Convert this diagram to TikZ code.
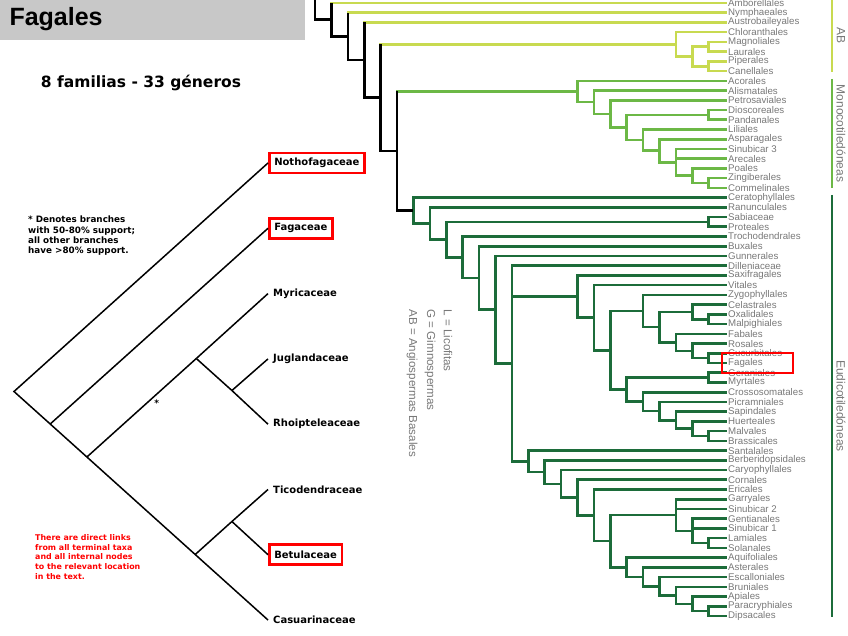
\documentclass[tikz,border=0pt]{standalone}
\usepackage{fontspec}
\setmainfont{Liberation Sans}
\newfontfamily\famfont{DejaVu Sans}
\usetikzlibrary{positioning, calc}

\definecolor{abgreen}{RGB}{200,218,80}
\definecolor{monogreen}{RGB}{108,184,70}
\definecolor{eudigreen}{RGB}{28,108,58}
\definecolor{labgray}{RGB}{120,120,120}
\definecolor{boxgray}{RGB}{200,200,200}

\tikzset{
  orden/.style={anchor=west, inner sep=1pt, text=labgray, font=\fontsize{9.7}{10}\selectfont},
  spine/.style={black, line width=2.6pt},
  abline/.style={abgreen, line width=2.6pt},
  monoline/.style={monogreen, line width=2.6pt},
  eudiline/.style={eudigreen, line width=2.6pt},
  cladebar/.style={line width=2pt},
  cladelab/.style={rotate=-90, text=labgray, font=\fontsize{12}{12}\selectfont},
  legend/.style={rotate=-90, anchor=west, text=labgray, font=\fontsize{11.6}{12}\selectfont},
  fam/.style={anchor=west, inner xsep=5pt, inner ysep=0pt, minimum height=20pt, font=\famfont\bfseries\fontsize{10}{10}\selectfont},
  hilite/.style={draw=red, line width=2.5pt},
  branch/.style={line width=1.5pt},
  note/.style={anchor=north west, align=left, inner sep=0pt, font=\famfont\bfseries\fontsize{8.8}{10.3}\selectfont},
}

\begin{document}
\begin{tikzpicture}[x=1pt, y=-1pt]
\useasboundingbox (0,0) rectangle (848,636);

% title and count
\fill[boxgray] (0,0) rectangle (305,40);
\node[anchor=west, font=\bfseries\fontsize{25}{25}\selectfont] (title) at (6,19) {Fagales};
\node[font=\famfont\bfseries\fontsize{15.5}{15.5}\selectfont] (count) at (141,83) {8 familias - 33 géneros};

% Fagales cladogram
\node[fam, hilite] (f1) at (268,163) {Nothofagaceae};
\node[fam, hilite] (f2) at (268,228.3) {Fagaceae};
\node[fam] (f3) at (268,293.6) {Myricaceae};
\node[fam] (f4) at (268,358.9) {Juglandaceae};
\node[fam] (f5) at (268,424.2) {Rhoipteleaceae};
\node[fam] (f6) at (268,489.5) {Ticodendraceae};
\node[fam, hilite] (f7) at (268,554.7) {Betulaceae};
\node[fam] (f8) at (268,620) {Casuarinaceae};

\coordinate (r) at (14,391.5);
\coordinate (n1) at (50.2,424);
\coordinate (n2) at (86.9,457);
\coordinate (n3) at (196.3,358.5);
\coordinate (n4) at (231.9,390.5);
\coordinate (n5) at (195.2,554.5);
\coordinate (n6) at (231.9,521.5);

\draw[branch] (f1.west) -- (r) -- (n1) -- (n2) -- (n5) -- (f8.west);
\draw[branch] (n2) -- node[pos=.6, below right, inner sep=1pt, font=\famfont\bfseries\fontsize{9}{9}\selectfont] (ast) {*} (n3);
\draw[branch] (n3) -- (n4);
\draw[branch] (n5) -- (n6);
\foreach \p/\c in {n1/f2, n3/f3, n4/f4, n4/f5, n6/f6, n6/f7}
  \draw[branch] (\p) -- (\c.west);

\node[note] (support) at (28,216) {* Denotes branches\\with 50-80\% support;\\all other branches\\have >80\% support.};
\node[note, text=red, font=\famfont\bfseries\fontsize{7.9}{9.8}\selectfont] (links) at (35,534) {There are direct links\\from all terminal taxa\\and all internal nodes\\to the relevant location\\in the text.};

% legend
\node[legend] (leg1) at (448,306) {L = Licofitas};
\node[legend] (leg2) at (430,306) {G = Gimnospermas};
\node[legend] (leg3) at (412,306) {AB = Angiospermas Basales};

% orders
\foreach \orden [count=\i] in {Amborellales, Nymphaeales, Austrobaileyales, Chloranthales,
  Magnoliales, Laurales, Piperales, Canellales, Acorales, Alismatales, Petrosaviales,
  Dioscoreales, Pandanales, Liliales, Asparagales, Sinubicar 3, Arecales, Poales,
  Zingiberales, Commelinales, Ceratophyllales, Ranunculales, Sabiaceae, Proteales,
  Trochodendrales, Buxales, Gunnerales, Dilleniaceae, Saxifragales, Vitales,
  Zygophyllales, Celastrales, Oxalidales, Malpighiales, Fabales, Rosales, Cucurbitales,
  Fagales, Geraniales, Myrtales, Crossosomatales, Picramniales, Sapindales, Huerteales,
  Malvales, Brassicales, Santalales, Berberidopsidales, Caryophyllales, Cornales,
  Ericales, Garryales, Sinubicar 2, Gentianales, Sinubicar 1, Lamiales, Solanales,
  Aquifoliales, Asterales, Escalloniales, Bruniales, Apiales, Paracryphiales, Dipsacales}
  \node[orden] (o\i) at (727,{3+9.73*(\i-1)}) {\orden};

% backbone
\coordinate (b0) at (315,-3);
\coordinate (b1) at (331.4,19.7);
\coordinate (b2) at (347.8,36.4);
\coordinate (b3) at (364.2,60.1);
\coordinate (b4) at (380.6,97.7);
\coordinate (b5) at (397,151);
\coordinate (b6) at (413.4,210.5);

% AB
\coordinate (cm) at (675.8,44.35);
\coordinate (mg) at (692.2,56.52);
\coordinate (ml) at (708.6,46.79);
\coordinate (pc) at (708.6,66.25);

% monocots
\coordinate (m0) at (577.4,91.5);
\coordinate (m1) at (593.8,102.2);
\coordinate (m2) at (610.2,113.9);
\coordinate (m3) at (626.6,127.5);
\coordinate (dp) at (708.6,114.9);
\coordinate (m4) at (643,140.1);
\coordinate (m5) at (659.4,150.8);
\coordinate (m6) at (675.8,162.3);
\coordinate (m7) at (692.2,175.7);
\coordinate (zc) at (708.6,183);

% eudicots
\coordinate (e1) at (429.8,223.5);
\coordinate (e2) at (446.2,239.6);
\coordinate (sp) at (708.6,221.9);
\coordinate (e3) at (462.6,257.3);
\coordinate (e4) at (479,278);
\coordinate (e5) at (495.4,309.7);
\coordinate (e6) at (511.8,363.5);
\coordinate (sr) at (577.4,296.6);
\coordinate (ro) at (593.8,317.7);
\coordinate (er) at (610.2,350.3);
\coordinate (fa) at (643,311);
\coordinate (f2) at (659.4,327.1);
\coordinate (ce) at (692.2,311.9);
\coordinate (om) at (708.6,319.2);
\coordinate (fb) at (675.8,342.3);
\coordinate (rs) at (692.2,350.8);
\coordinate (cf) at (708.6,358.1);
\coordinate (mv) at (626.6,389.6);
\coordinate (gm) at (708.6,377.6);
\coordinate (mv2) at (643,401.6);
\coordinate (mv3) at (659.4,411.1);
\coordinate (mv4) at (675.8,420.2);
\coordinate (mv5) at (692.2,428.7);
\coordinate (mb) at (708.6,436);
\coordinate (sa) at (528.2,461.3);
\coordinate (sa2) at (544.6,472.1);
\coordinate (sa3) at (561,483.8);
\coordinate (as) at (577.4,497.5);
\coordinate (as2) at (593.8,515.3);
\coordinate (as3) at (610.2,541.1);
\coordinate (la) at (675.8,515);
\coordinate (la2) at (692.2,530.8);
\coordinate (ls) at (708.6,543);
\coordinate (cp) at (626.6,567.2);
\coordinate (cp2) at (643,576.8);
\coordinate (cp3) at (659.4,586.2);
\coordinate (cp4) at (675.8,595.3);
\coordinate (cp5) at (692.2,603.8);
\coordinate (pd) at (708.6,611.1);

\foreach \p/\c in {b1/o1, b2/o2, b3/o3, b4/cm, cm/o4, cm/mg, mg/ml, mg/pc,
  ml/o5, ml/o6, pc/o7, pc/o8}
  \draw[abline] (\p) |- (\c);
\foreach \p/\c in {b5/m0, m0/o9, m0/m1, m1/o10, m1/m2, m2/o11, m2/m3, m3/dp, m3/m4,
  dp/o12, dp/o13, m4/o14, m4/m5, m5/o15, m5/m6, m6/o16, m6/o17, m6/m7, m7/o18,
  m7/zc, zc/o19, zc/o20}
  \draw[monoline] (\p) |- (\c);
\foreach \p/\c in {b6/o21, b6/e1, e1/o22, e1/e2, e2/sp, e2/e3, sp/o23, sp/o24,
  e3/o25, e3/e4, e4/o26, e4/e5, e5/o27, e5/e6, e6/o28, e6/sr, e6/sa, sr/o29, sr/ro,
  ro/o30, ro/er, er/fa, er/mv, fa/o31, fa/f2, f2/ce, f2/fb, ce/o32, ce/om, om/o33,
  om/o34, fb/o35, fb/rs, rs/o36, rs/cf, cf/o37, cf/o38, mv/gm, mv/mv2, gm/o39,
  gm/o40, mv2/o41, mv2/mv3, mv3/o42, mv3/mv4, mv4/o43, mv4/mv5, mv5/o44, mv5/mb,
  mb/o45, mb/o46, sa/o47, sa/sa2, sa2/o48, sa2/sa3, sa3/o49, sa3/as, as/o50,
  as/as2, as2/o51, as2/as3, as3/la, as3/cp, la/o52, la/o53, la/la2, la2/o54,
  la2/o55, la2/ls, ls/o56, ls/o57, cp/o58, cp/cp2, cp2/o59, cp2/cp3, cp3/o60,
  cp3/cp4, cp4/o61, cp4/cp5, cp5/o62, cp5/pd, pd/o63, pd/o64}
  \draw[eudiline] (\p) |- (\c);

\draw[spine] (b0) |- (b1) |- (b2) |- (b3) |- (b4) |- (b5) |- (b6);
\foreach \p/\c in {b1/o1, b2/o2, b3/o3, b4/cm, b5/m0}
  \draw[spine] (\p) -- (\p |- \c);

\node[hilite, minimum width=71pt, minimum height=20pt] (fagbox) at (757.5,363) {};

% clade bars
\draw[abgreen, cladebar] (832,0) -- (832,72);
\draw[monogreen, cladebar] (832,79) -- (832,188);
\draw[eudigreen, cladebar] (832,195) -- (832,617);
\node[cladelab] (ablab) at (841,36) {AB};
\node[cladelab] (monolab) at (841,133.5) {Monocotiledóneas};
\node[cladelab] (eudilab) at (841,406) {Eudicotiledóneas};
\end{tikzpicture}
\end{document}
